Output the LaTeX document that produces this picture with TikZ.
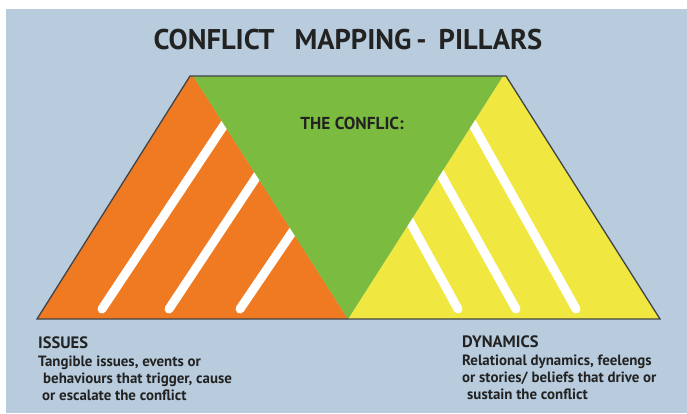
\documentclass[tikz,border=0pt]{standalone}
\usepackage{fontspec}
\setmainfont{PT Sans}
\definecolor{bgblue}{HTML}{B8CCDD}
\definecolor{orangeF}{HTML}{F07A22}
\definecolor{greenF}{HTML}{7BBB3F}
\definecolor{yellowF}{HTML}{F0E840}
\definecolor{outlineC}{HTML}{404448}
\definecolor{textC}{HTML}{222222}
\tikzset{
  stripe/.style={white, line width=9pt, line cap=round},
  titletext/.style={font=\bfseries\fontsize{28.5}{34}\selectfont, text=textC, inner sep=0pt},
  headtext/.style={font=\bfseries\fontsize{16.5}{18}\selectfont, text=textC, inner sep=0pt, anchor=base west},
  bodytext/.style={font=\bfseries\fontsize{14.9}{17}\selectfont, text=textC, inner sep=0pt, anchor=base west},
}
\begin{document}
\begin{tikzpicture}[x=1pt,y=-1pt]
\useasboundingbox (0,0) rectangle (687,413);
\fill[white] (0,0) rectangle (687,413);
\fill[bgblue] (6,9) rectangle (687,413);
% trapezoid corners
\coordinate (BL) at (37,319);
\coordinate (TL) at (190,76);
\coordinate (GL) at (193,76);
\coordinate (GR) at (503,76);
\coordinate (TR) at (506,76);
\coordinate (BR) at (660,319);
\coordinate (AP) at (348,319);
\fill[orangeF] (BL) -- (TL) -- (GL) -- (AP) -- cycle;
\fill[yellowF] (AP) -- (GR) -- (TR) -- (BR) -- cycle;
% stripes
\coordinate (o1t) at (230,116); \coordinate (o1b) at (102,309);
\coordinate (o2t) at (263,167); \coordinate (o2b) at (169,309);
\coordinate (o3t) at (299,222); \coordinate (o3b) at (240,309);
\coordinate (y1t) at (404,211); \coordinate (y1b) at (458,309);
\coordinate (y2t) at (435,164); \coordinate (y2b) at (516,309);
\coordinate (y3t) at (467,114); \coordinate (y3b) at (576,309);
\foreach \s in {o1,o2,o3,y1,y2,y3} \draw[stripe] (\s t) -- (\s b);
\fill[greenF] (GL) -- (GR) -- (AP) -- cycle;
\draw[outlineC, line width=1.3pt, line join=miter] (BL) -- (TL) -- (TR) -- (BR) -- cycle;
% texts
\node[titletext] (title) at (348,40) {CONFLICT\hspace{20pt}MAPPING\hspace{5pt}-\hspace{12pt}PILLARS};
\node[font=\bfseries\fontsize{17.3}{19}\selectfont, text=textC, inner sep=0pt] (conf) at (352,123) {THE CONFLIC:};
\node[headtext] (iss) at (38,348) {ISSUES};
\node[bodytext] (iss1) at (38,366) {Tangible issues, events or};
\node[bodytext] (iss2) at (43,383) {behaviours that trigger, cause};
\node[bodytext] (iss3) at (42,400) {or escalate the conflict};
\node[headtext] (dyn) at (462,347) {DYNAMICS};
\node[bodytext] (dyn1) at (462,365) {Relational dynamics, feelengs};
\node[bodytext] (dyn2) at (462,382) {or stories/ beliefs that drive or};
\node[bodytext] (dyn3) at (467,399) {sustain the conflict};
\end{tikzpicture}
\end{document}
